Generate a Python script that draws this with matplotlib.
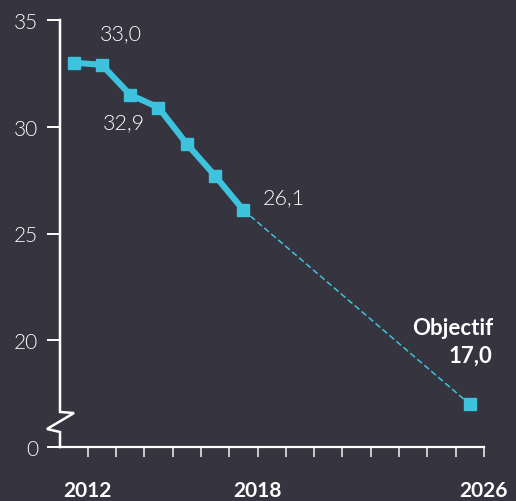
import matplotlib
matplotlib.use("Agg")
import matplotlib.pyplot as plt
import numpy as np

# Data
years = [2012, 2013, 2014, 2015, 2016, 2017, 2018]
values = [33.0, 32.9, 31.5, 30.9, 29.2, 27.7, 26.1]
target_year = 2026
target_value = 17.0
tick_years = list(range(2012, 2027))
labeled_years = [2012, 2018, 2026]
ytick_vals = [15, 20, 25, 30, 35]
ytick_labels = ["0", "20", "25", "30", "35"]

BG = "#36343e"
CYAN = "#3ec3de"
WHITE = "#ffffff"

plt.rcParams['font.family'] = ['Lato', 'DejaVu Sans']

W, H = 516, 502
fig = plt.figure(figsize=(W / 100, H / 100), dpi=100, facecolor=BG)
ax_l, ax_r, ax_t, ax_b = 60, 484, 21, 448
ax = fig.add_axes([ax_l / W, (H - ax_b) / H, (ax_r - ax_l) / W, (ax_b - ax_t) / H])
ax.set_facecolor(BG)

xs = np.array(years) - 0.5
tx = target_year - 0.5

# dashed projection
ax.plot([xs[-1], tx], [values[-1], target_value], color=CYAN, lw=1.1,
        ls=(0, (4, 2)), zorder=2, clip_on=False)
ax.plot(xs, values, color=CYAN, lw=4.4, marker='s', ms=8.5, zorder=3,
        solid_joinstyle='miter', clip_on=False)
ax.plot([tx], [target_value], color=CYAN, marker='s', ms=8.5, ls='none',
        zorder=3, clip_on=False)

step = 28.3
ax.set_xlim(2012 - (87.7 - ax_l) / step, 2026)
ax.set_ylim(15, 35)

# spines
for s in ['top', 'right', 'left']:
    ax.spines[s].set_visible(False)
ax.spines['bottom'].set_color(WHITE)
ax.spines['bottom'].set_linewidth(1.6)

# manual left axis with break
aw, ah = ax_r - ax_l, ax_b - ax_t
pts = [(0, ah), (0, 35), (14, 34), (-13, 18), (0, 15), (0, 0)]
bx = [p[0] / aw for p in pts]
by = [p[1] / ah for p in pts]
ax.plot(bx, by, transform=ax.transAxes, color=WHITE, lw=1.8,
        clip_on=False, solid_joinstyle='miter', zorder=4)

ax.set_yticks(ytick_vals)
ax.set_yticklabels(ytick_labels)
ax.tick_params(axis='y', direction='out', length=9.5, width=1.4, color=WHITE,
               labelcolor=WHITE, labelsize=15, pad=6)
for t in ax.get_yticklabels():
    t.set_fontweight(300)

ax.set_xticks(tick_years)
ax.set_xticklabels([str(y) if y in labeled_years else "" for y in tick_years])
ax.tick_params(axis='x', direction='out', length=7, width=1.3, color="#d8d8d8",
               labelcolor=WHITE, labelsize=15, pad=17)
for t in ax.get_xticklabels():
    t.set_fontweight('bold')

# annotations
def fmt(v):
    return f"{v:.1f}".replace(".", ",")

LS = 15.5
LW = 300
ax.annotate(fmt(values[0]), (xs[0], values[0]), xytext=(18.7, 20.9),
            textcoords='offset points', ha='left', va='center',
            color=WHITE, fontsize=LS, fontweight=LW)
ax.annotate(fmt(values[1]), (xs[1], values[1]), xytext=(0.7, -41.5),
            textcoords='offset points', ha='left', va='center',
            color=WHITE, fontsize=LS, fontweight=LW)
ax.annotate(fmt(values[-1]), (xs[-1], values[-1]), xytext=(13.7, 9.4),
            textcoords='offset points', ha='left', va='center',
            color=WHITE, fontsize=LS, fontweight=LW)
ax.annotate("Objectif", (tx, target_value), xytext=(16.5, 55.5),
            textcoords='offset points', ha='right', va='center',
            color=WHITE, fontsize=16, fontweight='bold', annotation_clip=False)
ax.annotate(fmt(target_value), (tx, target_value), xytext=(16.5, 35.5),
            textcoords='offset points', ha='right', va='center',
            color=WHITE, fontsize=16, fontweight='bold', annotation_clip=False)

fig.savefig("out.png", dpi=100, facecolor=BG)
